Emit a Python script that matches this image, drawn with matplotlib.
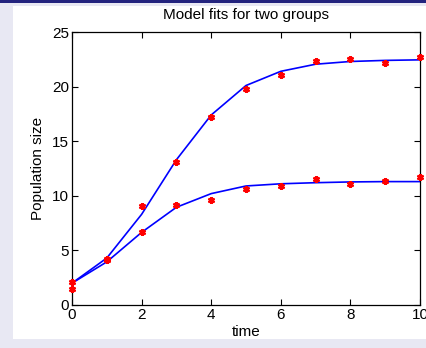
import numpy as np
import matplotlib.pyplot as plt
from matplotlib.patches import Rectangle

################################
# Data
################################
t = [0, 1, 2, 3, 4, 5, 6, 7, 8, 9, 10]

obs_upper = [2.1, 4.2, 9.1, 13.1, 17.2, 19.8, 21.1, 22.3, 22.5, 22.2, 22.7]
obs_lower = [1.5, 4.1, 6.7, 9.2, 9.65, 10.6, 10.9, 11.5, 11.1, 11.4, 11.7]

fit_upper = [2.0, 4.3, 8.3, 13.3, 17.4, 20.1, 21.4, 22.05, 22.3, 22.4, 22.45]
fit_lower = [2.0, 3.95, 6.65, 8.95, 10.2, 10.9, 11.1, 11.2, 11.27, 11.3, 11.3]

xticks = [0, 2, 4, 6, 8, 10]
yticks = [0, 5, 10, 15, 20, 25]

################################
# Plot
################################
plt.rcParams['font.family'] = ['Liberation Sans', 'DejaVu Sans']

W, H = 427, 348
fig = plt.figure(figsize=(W / 100, H / 100), dpi=100)
fig.patch.set_facecolor('#e8e8f3')

# slide-like frame: dark top bar and white panel
fig.patches.append(Rectangle((0, 1 - 3 / H), 1, 3 / H, transform=fig.transFigure,
                             facecolor='#23237e', edgecolor='none', zorder=-10))
fig.patches.append(Rectangle((13 / W, 1 - 339 / H), 1 - 13 / W, (339 - 6) / H,
                             transform=fig.transFigure, facecolor='white',
                             edgecolor='none', zorder=-10))

ax = fig.add_axes([72 / W, 1 - 305 / H, (420 - 72) / W, (305 - 32) / H])
ax.set_facecolor('white')

ax.plot(t, fit_upper, color='#0000ff', lw=1.2, zorder=2)
ax.plot(t, fit_lower, color='#0000ff', lw=1.2, zorder=2)
ax.plot(t, obs_upper, ls='none', marker=(6, 2, 0), ms=5, mew=1.6,
        color='#ff0000', clip_on=False, zorder=3)
ax.plot(t, obs_lower, ls='none', marker=(6, 2, 0), ms=5, mew=1.6,
        color='#ff0000', clip_on=False, zorder=3)

ax.set_xlim(0, 10)
ax.set_ylim(0, 25)
ax.set_xticks(xticks)
ax.set_yticks(yticks)
ax.tick_params(direction='in', top=True, right=True, length=4, width=0.8,
               labelsize=11, pad=2)
for s in ax.spines.values():
    s.set_linewidth(0.9)

ax.set_title('Model fits for two groups', fontsize=11, pad=9)
ax.set_xlabel('time', fontsize=11, labelpad=2)
ax.set_ylabel('Population size', fontsize=11, labelpad=5)

fig.savefig('out.png', dpi=100, facecolor=fig.get_facecolor())
